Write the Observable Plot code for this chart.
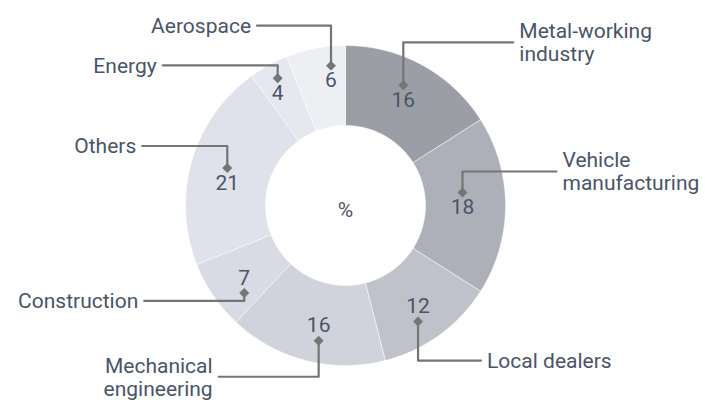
<!DOCTYPE html>
<html>
<head>
<meta charset="utf-8">
<script src="https://cdn.jsdelivr.net/npm/d3@7"></script>
<script src="https://cdn.jsdelivr.net/npm/@observablehq/plot@0.6"></script>
<style>
  html, body { margin: 0; padding: 0; background: #fff; }
  #chart { width: 705px; height: 400px; }
</style>
</head>
<body>
<div id="chart"></div>
<script>
// ---- data ----
const categories = ["Metal-working industry", "Vehicle manufacturing", "Local dealers", "Mechanical engineering", "Construction", "Others", "Energy", "Aerospace"];
const labelText = ["Metal-working\nindustry", "Vehicle\nmanufacturing", "Local dealers", "Mechanical\nengineering", "Construction", "Others", "Energy", "Aerospace"];
const values = [16, 18, 12, 16, 7, 21, 4, 6];
const centerLabel = "%";

// ---- styles / layout ----
const colors = ["#9c9ea6", "#adb0b9", "#bfc2cb", "#d0d3dc", "#d8dbe4", "#dfe2ea", "#e6e8ef", "#eeeff3"];
const textColor = "#4a5467";
const leaderColor = "#757575";
const FS = 21;
const W = 705, H = 400, R = 160, CX = 345, CY = 205, INNER = 0.5, LABEL_R = 0.75;
// per-label leader layout (pixels): text nudge, vertical leg, horizontal run
const nudge = [[0, 0], [-3, 2], [2, 4], [3, 4], [-2, 5], [-3, 11], [-10, -7], [8, -7]];
const leg = [-43, -21, 39, 36, 8, -22, -13, -40];
const run = [110, 94, 63, -100, -100, -85, -115, -74];

const pie = d3.pie().sort(null).value(d => d)(values);
const slices = pie.map((p, i) => ({
  name: categories[i], value: values[i], a0: p.startAngle, a1: p.endAngle,
  mid: (p.startAngle + p.endAngle) / 2, i
}));

const ring = slices.flatMap(s => {
  const pts = [];
  const n = Math.max(4, Math.ceil((s.a1 - s.a0) / 0.01));
  for (let k = 0; k <= n; k++) { const a = s.a0 + (s.a1 - s.a0) * k / n; pts.push({name: s.name, x: Math.sin(a), y: Math.cos(a)}); }
  for (let k = n; k >= 0; k--) { const a = s.a0 + (s.a1 - s.a0) * k / n; pts.push({name: s.name, x: INNER * Math.sin(a), y: INNER * Math.cos(a)}); }
  pts.push({...pts[0]});
  return pts;
});

const anchors = slices.map(s => {
  const i = s.i;
  const tx = LABEL_R * Math.sin(s.mid) + nudge[i][0] / R;
  const ty = LABEL_R * Math.cos(s.mid) - nudge[i][1] / R;
  const sg = Math.sign(leg[i]);
  const dx = tx, dy = ty - sg * 15 / R;
  const ey = dy - leg[i] / R;
  const ex = dx + run[i] / R;
  const lx = ex + Math.sign(run[i]) * 6 / R;
  return {name: s.name, value: s.value, label: labelText[i], tx, ty, dx, dy, ex, ey, lx, right: run[i] > 0};
});
const leaders = anchors.flatMap(a => [
  {name: a.name, x: a.dx, y: a.dy},
  {name: a.name, x: a.dx, y: a.ey},
  {name: a.name, x: a.ex, y: a.ey}
]);

const chart = Plot.plot({
  width: W, height: H, margin: 0,
  x: {domain: [-CX / R, (W - CX) / R], axis: null},
  y: {domain: [(CY - H) / R, CY / R], axis: null},
  color: {domain: categories, range: colors},
  style: {fontFamily: "Roboto, 'Noto Sans', sans-serif", background: "#fff"},
  marks: [
    Plot.line(ring, {x: "x", y: "y", z: "name", fill: "name", stroke: "#ffffff", strokeWidth: 0.8, strokeOpacity: 0.6, curve: "linear"}),
    Plot.line(leaders, {x: "x", y: "y", z: "name", stroke: leaderColor, strokeWidth: 2.2, curve: "linear"}),
    Plot.dot(anchors, {x: "dx", y: "dy", symbol: "diamond2", r: 4.5, fill: leaderColor, stroke: "none"}),
    Plot.text(anchors, {x: "tx", y: "ty", text: d => String(d.value), fill: textColor, fontSize: FS}),
    Plot.text(anchors.filter(d => d.right), {x: "lx", y: "ey", text: "label", textAnchor: "start", fill: textColor, fontSize: FS, lineHeight: 1.1}),
    Plot.text(anchors.filter(d => !d.right), {x: "lx", y: "ey", text: "label", textAnchor: "end", fill: textColor, fontSize: FS, lineHeight: 1.1}),
    Plot.text([centerLabel], {x: [0], y: [-5 / R], text: d => d, fill: textColor, fontSize: FS})
  ]
});
document.getElementById("chart").appendChild(chart);
</script>
</body>
</html>
